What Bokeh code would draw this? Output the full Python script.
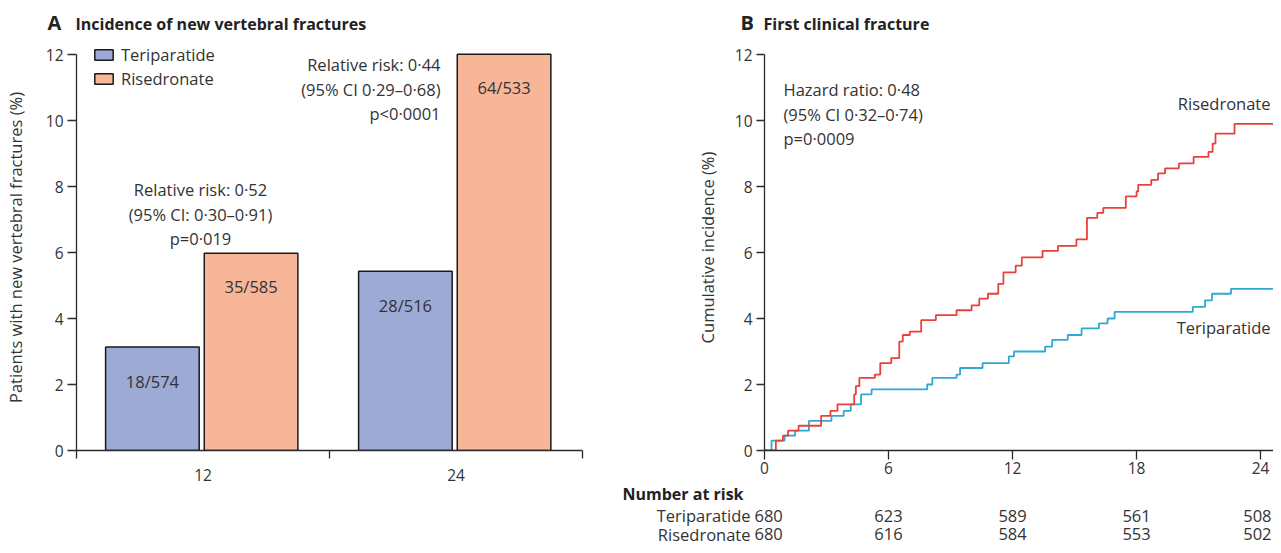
import numpy as np
from bokeh.plotting import figure
from bokeh.layouts import row, column
from bokeh.models import Range1d, FixedTicker, Legend, LegendItem
from bokeh.embed import file_html
from bokeh.resources import INLINE
from bokeh.core.properties import value

# ---------------- data ----------------
visits = ["12", "24"]
series = ["Teriparatide", "Risedronate"]
teri_pct = [3.14, 5.43]
rise_pct = [5.98, 12.01]
teri_counts = ["18/574", "28/516"]
rise_counts = ["35/585", "64/533"]
rr_lines_12 = ["Relative risk: 0·52", "(95% CI: 0·30–0·91)", "p=0·019"]
rr_lines_24 = ["Relative risk: 0·44", "(95% CI 0·29–0·68)", "p<0·0001"]
yticks = [0, 2, 4, 6, 8, 10, 12]

km_teri_t = [0, 0.34, 0.97, 1.48, 2.15, 3.24, 3.83, 4.17, 4.67, 5.18, 7.87, 8.12, 9.29, 9.46,
             10.55, 11.82, 12.07, 13.58, 13.92, 14.67, 15.34, 16.18, 16.6, 16.94, 20.72, 21.31,
             21.65, 22.57, 24.9]
km_teri_y = [0, 0.3, 0.45, 0.6, 0.9, 1.05, 1.2, 1.4, 1.7, 1.85, 2.0, 2.2, 2.3, 2.5,
             2.65, 2.85, 3.0, 3.15, 3.35, 3.5, 3.7, 3.85, 4.0, 4.2, 4.35, 4.55,
             4.75, 4.9, 4.9]
km_rise_t = [0, 0.55, 0.89, 1.14, 1.65, 2.74, 3.19, 3.53, 4.34, 4.42, 4.59, 5.34, 5.60, 6.13,
             6.52, 6.69, 7.03, 7.58, 8.29, 9.29, 10.02, 10.39, 10.81, 11.31, 11.56, 12.15, 12.45,
             13.45, 14.2, 15.09, 15.6, 16.1, 16.39, 17.48, 18.0, 18.08, 18.71, 19.04, 19.38,
             20.05, 20.76, 21.48, 21.68, 21.82, 22.74, 24.9]
km_rise_y = [0, 0.3, 0.45, 0.6, 0.75, 1.05, 1.2, 1.4, 1.7, 1.95, 2.2, 2.3, 2.65, 2.8,
             3.3, 3.5, 3.6, 3.95, 4.1, 4.25, 4.4, 4.6, 4.75, 5.05, 5.4, 5.6, 5.85,
             6.05, 6.2, 6.4, 7.05, 7.2, 7.35, 7.7, 7.85, 8.05, 8.2, 8.4, 8.55,
             8.7, 8.9, 9.05, 9.3, 9.6, 9.9, 9.9]
hr_lines = ["Hazard ratio: 0·48", "(95% CI 0·32–0·74)", "p=0·0009"]
month_ticks = [0, 6, 12, 18, 24]
risk_teri = [680, 623, 589, 561, 508]
risk_rise = [680, 616, 584, 553, 502]
titles = [("A", "Incidence of new vertebral fractures"), ("B", "First clinical fracture")]
risk_title = "Number at risk"

# ---------------- style ----------------
FONT = "Open Sans"
TXT = "#333333"
DARK = "#222222"
AX = "#2a2a2a"
BLUE_FILL = "#9DAAD6"
SALMON_FILL = "#F8B699"
RED = "#E9413A"
CYAN = "#31A8D3"
FS = "16.5px"
TICK_FS = "15.5px"

# layout in picture pixels (origin at top-left of the drawing)
TOTAL_W, TOTAL_H = 1273, 545
HEAD_H = 40
A_W = 592
B_W = TOTAL_W - A_W
A_FL, A_FR = 76, 582
F_TOP, F_BOT, Y12 = 44, 450, 54
Y_END = 12 * (F_BOT - F_TOP) / (F_BOT - Y12)
B_FL, B_FR = 764, TOTAL_W
PX_PER_MONTH = 20.67
XB_END = (B_FR - B_FL) / PX_PER_MONTH
B_H = 482 - HEAD_H
T_TOP = HEAD_H + B_H
T_H = TOTAL_H - T_TOP


def py_to_y(py):
    return (F_BOT - py) / (F_BOT - F_TOP) * Y_END


def px_to_xa(px):
    return (px - A_FL) / (A_FR - A_FL) * len(visits)


def px_to_xb(px):
    return (px - B_FL) / PX_PER_MONTH


def style_axes(p):
    for ax in p.axis:
        ax.axis_line_color = AX
        ax.axis_line_width = 1.3
        ax.major_tick_line_color = AX
        ax.major_tick_line_width = 1.3
        ax.minor_tick_line_color = AX
        ax.minor_tick_line_width = 1.3
        ax.major_label_text_font = FONT
        ax.major_label_text_font_size = TICK_FS
        ax.major_label_text_color = TXT
        ax.axis_label_text_font = FONT
        ax.axis_label_text_font_size = FS
        ax.axis_label_text_font_style = "normal"
        ax.axis_label_text_color = TXT
    p.grid.visible = False
    p.outline_line_color = None


def plain_fig(w, h, xr, yr):
    f = figure(width=w, height=h, output_backend="svg", toolbar_location=None,
               x_range=xr, y_range=yr, x_axis_location=None, y_axis_location=None,
               frame_align=False,
               min_border_left=0, min_border_right=0, min_border_top=0, min_border_bottom=0)
    f.grid.visible = False
    f.outline_line_color = None
    return f


def header(x0, w, letter, title, letter_x, title_x):
    h = plain_fig(w, HEAD_H, Range1d(x0, x0 + w), Range1d(0, HEAD_H))
    h.text(x=[letter_x], y=[HEAD_H - 22], text=[letter], text_align="left",
           text_baseline="middle", text_font=value(FONT), text_font_size="20px",
           text_font_style="bold", text_color=DARK)
    h.text(x=[title_x], y=[HEAD_H - 23], text=[title], text_align="left",
           text_baseline="middle", text_font=value(FONT), text_font_size="16px",
           text_font_style="bold", text_color=DARK)
    return h


# ---------------- panel A ----------------
hA = header(0, A_W, titles[0][0], titles[0][1], 47, 75)

pA = figure(width=A_W, height=TOTAL_H - HEAD_H, output_backend="svg", toolbar_location=None,
            x_range=Range1d(0, len(visits)), y_range=Range1d(0, Y_END), frame_align=False,
            min_border_left=A_FL, min_border_right=A_W - A_FR,
            min_border_top=F_TOP - HEAD_H, min_border_bottom=TOTAL_H - F_BOT)
style_axes(pA)

gidx = np.arange(len(visits))
offset, bw = 0.195, 0.37
xt = gidx + 0.495 - offset
xr = gidx + 0.495 + offset
r_t = pA.vbar(x=xt, top=teri_pct, width=bw, bottom=0, fill_color=BLUE_FILL,
              line_color="#1a1a1a", line_width=1.5)
r_r = pA.vbar(x=xr, top=rise_pct, width=bw, bottom=0, fill_color=SALMON_FILL,
              line_color="#1a1a1a", line_width=1.5)

pA.text(x=xt, y=np.array(teri_pct) - 1.05, text=teri_counts, text_align="center",
        text_baseline="middle", text_font=value(FONT), text_font_size=FS, text_color=TXT)
pA.text(x=xr, y=np.array(rise_pct) - 1.0, text=rise_counts, text_align="center",
        text_baseline="middle", text_font=value(FONT), text_font_size=FS, text_color=TXT)

pitch = 24.5
pA.text(x=[px_to_xa(200)] * 3, y=[py_to_y(189 + i * pitch) for i in range(3)], text=rr_lines_12,
        text_align="center", text_baseline="middle", text_font=value(FONT),
        text_font_size=FS, text_color=TXT)
pA.text(x=[px_to_xa(440)] * 3, y=[py_to_y(64 + i * pitch) for i in range(3)], text=rr_lines_24,
        text_align="right", text_baseline="middle", text_font=value(FONT),
        text_font_size=FS, text_color=TXT)

pA.yaxis.ticker = FixedTicker(ticks=yticks)
pA.yaxis.bounds = (0, 12)
pA.yaxis.major_tick_out = 9
pA.yaxis.major_tick_in = 0
pA.yaxis.minor_tick_out = 0
pA.yaxis.major_label_standoff = 4
pA.yaxis.axis_label = "Patients with new vertebral fractures (%)"
pA.yaxis.axis_label_standoff = 16

pA.xaxis.ticker = FixedTicker(ticks=list(gidx + 0.5), minor_ticks=list(range(len(visits) + 1)))
pA.xaxis.major_label_overrides = {float(i + 0.5): v for i, v in enumerate(visits)}
pA.xaxis.major_tick_out = 0
pA.xaxis.major_tick_in = 0
pA.xaxis.minor_tick_out = 8
pA.xaxis.minor_tick_in = 0
pA.xaxis.major_label_standoff = 10

legend = Legend(items=[LegendItem(label=series[0], renderers=[r_t]),
                       LegendItem(label=series[1], renderers=[r_r])],
                location=(92 - A_FL, F_BOT - 90),
                glyph_width=23, glyph_height=13, label_height=22, label_width=10,
                spacing=1, padding=0, margin=0, label_standoff=6,
                border_line_color=None, background_fill_alpha=0,
                label_text_font=FONT, label_text_font_size=FS, label_text_color=TXT)
pA.add_layout(legend)

# ---------------- panel B ----------------
hB = header(A_W, B_W, titles[1][0], titles[1][1], 740, 763)

pB = figure(width=B_W, height=B_H, output_backend="svg", toolbar_location=None,
            x_range=Range1d(0, XB_END), y_range=Range1d(0, Y_END), frame_align=False,
            min_border_left=B_FL - A_W, min_border_right=TOTAL_W - B_FR,
            min_border_top=F_TOP - HEAD_H, min_border_bottom=HEAD_H + B_H - F_BOT)
style_axes(pB)

pB.step(x=km_teri_t, y=km_teri_y, mode="after", line_color=CYAN, line_width=1.8)
pB.step(x=km_rise_t, y=km_rise_y, mode="after", line_color=RED, line_width=1.8)

pB.text(x=[px_to_xb(783)] * 3, y=[py_to_y(89 + i * pitch) for i in range(3)], text=hr_lines,
        text_align="left", text_baseline="middle", text_font=value(FONT),
        text_font_size=FS, text_color=TXT)
pB.text(x=[px_to_xb(B_FR - 3)] * 2, y=[py_to_y(103), py_to_y(327)], text=[series[1], series[0]],
        text_align="right", text_baseline="middle", text_font=value(FONT),
        text_font_size=FS, text_color=TXT)

pB.yaxis.ticker = FixedTicker(ticks=yticks)
pB.yaxis.bounds = (0, 12)
pB.yaxis.major_tick_out = 8
pB.yaxis.major_tick_in = 0
pB.yaxis.minor_tick_out = 0
pB.yaxis.major_label_standoff = 4
pB.yaxis.axis_label = "Cumulative incidence (%)"
pB.yaxis.axis_label_standoff = 13

pB.xaxis.ticker = FixedTicker(ticks=month_ticks)
pB.xaxis.major_tick_out = 9
pB.xaxis.major_tick_in = 0
pB.xaxis.minor_tick_out = 0
pB.xaxis.major_label_standoff = 2

# ---------------- number at risk table ----------------
pT = plain_fig(B_W, T_H, Range1d(px_to_xb(A_W), px_to_xb(TOTAL_W)), Range1d(0, T_H))


def ty(py):
    return TOTAL_H - py


row_py = [515, 533.5]
pT.text(x=[px_to_xb(622)], y=[ty(493)], text=[risk_title], text_align="left",
        text_baseline="middle", text_font=value(FONT), text_font_size="16px",
        text_font_style="bold", text_color=DARK)
pT.text(x=[px_to_xb(750)] * 2, y=[ty(v) for v in row_py], text=series, text_align="right",
        text_baseline="middle", text_font=value(FONT), text_font_size=FS, text_color=TXT)
for rpy, vals in zip(row_py, [risk_teri, risk_rise]):
    # first column sits just right of the group name, middle ones centred on the ticks,
    # the last one kept inside the right edge
    pT.text(x=[px_to_xb(754)], y=[ty(rpy)], text=[str(vals[0])], text_align="left",
            text_baseline="middle", text_font=value(FONT), text_font_size=FS, text_color=TXT)
    pT.text(x=month_ticks[1:-1], y=[ty(rpy)] * (len(vals) - 2), text=[str(v) for v in vals[1:-1]],
            text_align="center", text_baseline="middle", text_font=value(FONT),
            text_font_size=FS, text_color=TXT)
    pT.text(x=[px_to_xb(TOTAL_W - 2)], y=[ty(rpy)], text=[str(vals[-1])], text_align="right",
            text_baseline="middle", text_font=value(FONT), text_font_size=FS, text_color=TXT)

# the page body has an 8px margin; pull the bottom margin in so the page keeps to the window
layout = row(column(hA, pA), column(hB, pB, pT), styles={"margin-bottom": "-8px"})
open("out.html", "w").write(file_html(layout, INLINE))
